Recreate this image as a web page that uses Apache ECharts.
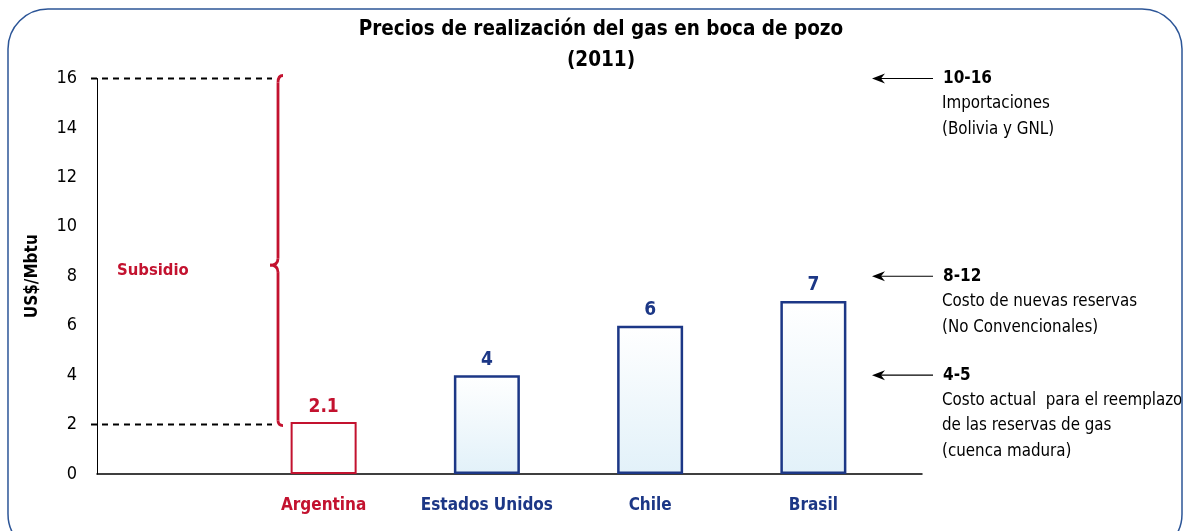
<!DOCTYPE html>
<html>
<head>
<meta charset="utf-8">
<title>Precios de realización del gas en boca de pozo</title>
<script src="https://cdn.jsdelivr.net/npm/echarts@6/dist/echarts.min.js"></script>
<style>
  html, body { margin: 0; padding: 0; background: #fff; }
  #main { width: 1185px; height: 531px; }
</style>
</head>
<body>
<div id="main"></div>
<script>
  // datos
  var categories = ['Argentina', 'Estados Unidos', 'Chile', 'Brasil'];
  var prices = [2.1, 4, 6, 7];
  var yTicks = [0, 2, 4, 6, 8, 10, 12, 14, 16];
  var subsidyRange = [2, 16];
  var refValues = [16, 8, 4];
  var refRanges = ['10-16', '8-12', '4-5'];
  var refTexts = [
    ['Importaciones', '(Bolivia y GNL)'],
    ['Costo de nuevas reservas', '(No Convencionales)'],
    ['Costo actual  para el reemplazo', 'de las reservas de gas', '(cuenca madura)']
  ];

  var FONT = "'DejaVu Sans Condensed', 'DejaVu Sans', sans-serif";
  var RED = '#c3122f';
  var NAVY = '#1c3786';

  var chart = echarts.init(document.getElementById('main'));

  var blueFill = new echarts.graphic.LinearGradient(0, 0, 0, 1, [
    {offset: 0, color: '#ffffff'},
    {offset: 1, color: '#e2f1f9'}
  ]);

  var option = {
    animation: false,
    grid: [
      {left: 242, top: 78.5, width: 653, height: 395.5},   // barras
      {left: 97, top: 78.5, width: 825, height: 395.5}     // ejes
    ],
    xAxis: [
      {
        gridIndex: 0,
        type: 'category',
        data: categories,
        axisLine: {show: false},
        axisTick: {show: false},
        axisLabel: {
          interval: 0,
          margin: 23,
          fontFamily: FONT,
          fontSize: 17,
          fontWeight: 'bold',
          color: function (v, i) { return i === 0 ? RED : NAVY; }
        }
      },
      {
        gridIndex: 1,
        type: 'value',
        min: 0,
        max: 1,
        axisLine: {show: true, lineStyle: {color: '#000', width: 1.5}},
        axisTick: {show: false},
        axisLabel: {show: false},
        splitLine: {show: false}
      }
    ],
    yAxis: [
      {
        gridIndex: 0,
        type: 'value',
        min: 0,
        max: 16,
        show: false
      },
      {
        gridIndex: 1,
        type: 'value',
        min: yTicks[0],
        max: yTicks[yTicks.length - 1],
        interval: 2,
        name: 'US$/Mbtu',
        nameLocation: 'middle',
        nameRotate: 90,
        nameGap: 56,
        nameTextStyle: {fontFamily: FONT, fontSize: 17, fontWeight: 'bold', color: '#000'},
        axisLine: {show: true, lineStyle: {color: '#000', width: 1}},
        axisTick: {show: false},
        splitLine: {show: false},
        axisLabel: {margin: 20, fontFamily: FONT, fontSize: 18, color: '#000'}
      }
    ],
    series: [
      {
        type: 'bar',
        xAxisIndex: 0,
        yAxisIndex: 0,
        barWidth: 66,
        data: prices.map(function (v, i) {
          return {
            value: v,
            itemStyle: i === 0
              ? {color: '#fff', borderColor: RED, borderWidth: 2}
              : {color: blueFill, borderColor: NAVY, borderWidth: 2.5},
            label: {color: i === 0 ? RED : NAVY}
          };
        }),
        label: {
          show: true,
          position: 'top',
          distance: 6,
          fontFamily: FONT,
          fontSize: 19,
          fontWeight: 'bold'
        }
      }
    ]
  };

  chart.setOption(option);

  // anotaciones
  function py(v) { return chart.convertToPixel({yAxisIndex: 1}, v); }

  var g = [];
  // marco redondeado
  g.push({type: 'rect', shape: {x: 8, y: 9, width: 1174, height: 545, r: 40},
    style: {fill: null, stroke: '#2c5597', lineWidth: 1.5}, z: 1});
  // titulo
  g.push({type: 'text', style: {text: 'Precios de realización del gas en boca de pozo', x: 601, y: 30,
    align: 'center', verticalAlign: 'middle', font: 'bold 20.5px ' + FONT, fill: '#000'}});
  g.push({type: 'text', style: {text: '(2011)', x: 601, y: 61,
    align: 'center', verticalAlign: 'middle', font: 'bold 20.5px ' + FONT, fill: '#000'}});

  // lineas de subsidio
  var yTop = py(subsidyRange[1]);
  var yBot = py(subsidyRange[0]);
  [yTop, yBot].forEach(function (y) {
    g.push({type: 'line', shape: {x1: 91, y1: y, x2: 272, y2: y},
      style: {stroke: '#000', lineWidth: 2, lineDash: [6, 5]}});
  });

  // llave
  var yMid = py(8.45);
  var bx = 278;
  var braceStyle = {fill: null, stroke: RED, lineWidth: 2.8};
  g.push({type: 'bezierCurve', shape: {x1: bx + 5, y1: yTop - 3, cpx1: bx, cpy1: yTop - 3, x2: bx, y2: yTop + 4}, style: braceStyle});
  g.push({type: 'line', shape: {x1: bx, y1: yTop + 4, x2: bx, y2: yMid - 7}, style: braceStyle});
  g.push({type: 'bezierCurve', shape: {x1: bx, y1: yMid - 7, cpx1: bx, cpy1: yMid, x2: bx - 8, y2: yMid}, style: braceStyle});
  g.push({type: 'bezierCurve', shape: {x1: bx - 8, y1: yMid, cpx1: bx, cpy1: yMid, x2: bx, y2: yMid + 7}, style: braceStyle});
  g.push({type: 'line', shape: {x1: bx, y1: yMid + 7, x2: bx, y2: yBot - 4}, style: braceStyle});
  g.push({type: 'bezierCurve', shape: {x1: bx, y1: yBot - 4, cpx1: bx, cpy1: yBot + 1, x2: bx + 5, y2: yBot + 1}, style: braceStyle});

  g.push({type: 'text', style: {text: 'Subsidio', x: 117, y: 271, verticalAlign: 'middle',
    font: 'bold 16.5px ' + FONT, fill: RED}});

  // flechas y textos a la derecha
  refValues.forEach(function (v, i) {
    var y = py(v);
    g.push({type: 'line', shape: {x1: 878, y1: y, x2: 933, y2: y}, style: {stroke: '#000', lineWidth: 1.2}});
    g.push({type: 'polygon', shape: {points: [[872, y], [885, y - 5], [881, y], [885, y + 5]]},
      style: {fill: '#000'}});
    g.push({type: 'text', style: {text: refRanges[i], x: 943, y: y, verticalAlign: 'middle',
      font: 'bold 17px ' + FONT, fill: '#000'}});
    refTexts[i].forEach(function (t, j) {
      g.push({type: 'text', style: {text: t, x: 942, y: y + 25.5 * (j + 1), verticalAlign: 'middle',
        font: '16.8px ' + FONT, fill: '#000'}});
    });
  });

  chart.setOption({graphic: g});
  window.onresize = chart.resize;
</script>
</body>
</html>
